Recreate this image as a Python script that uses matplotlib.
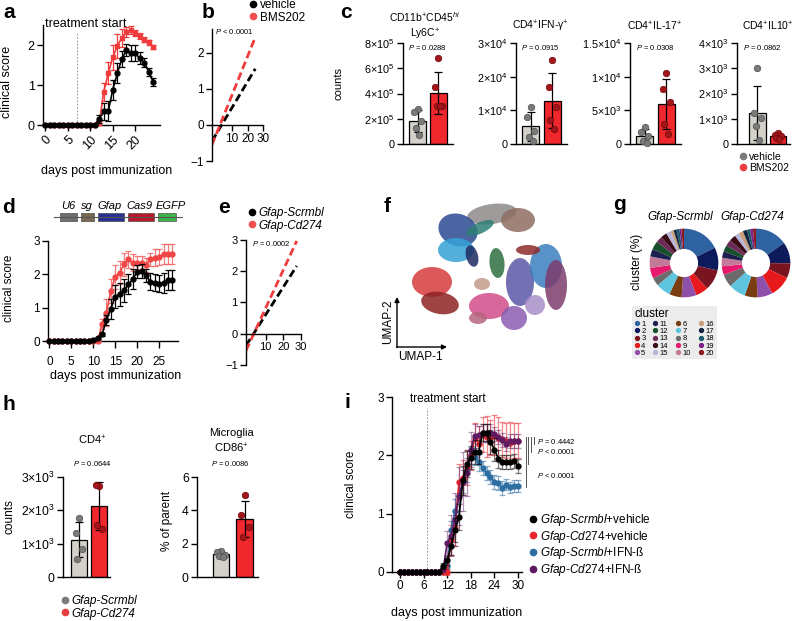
import numpy as np
import matplotlib
matplotlib.use("Agg")
import matplotlib.pyplot as plt
from matplotlib.patches import Ellipse, Rectangle
from matplotlib.lines import Line2D
from matplotlib.colors import to_rgba

plt.rcParams["font.family"] = ["Liberation Sans", "DejaVu Sans"]
plt.rcParams["mathtext.fontset"] = "custom"
plt.rcParams["mathtext.rm"] = "Liberation Sans"
plt.rcParams["mathtext.it"] = "Liberation Sans:italic"
plt.rcParams["mathtext.bf"] = "Liberation Sans:bold"
plt.rcParams["axes.linewidth"] = 1.0

W, H = 800, 621

# ---------------- data ----------------
# a: clinical score, vehicle vs BMS202
days_a = np.arange(0, 25)
a_vehicle = [0, 0, 0, 0, 0, 0, 0, 0, 0, 0, 0, 0,
             0.16, 0.34, 0.34, 0.88, 1.29, 1.64, 1.87, 1.79, 1.79, 1.67, 1.56, 1.33, 1.08]
a_vehicle_sem = [0, 0, 0, 0, 0, 0, 0, 0, 0, 0, 0, 0,
                 0.1, 0.22, 0.25, 0.25, 0.25, 0.2, 0.15, 0.2, 0.2, 0.15, 0.12, 0.1, 0.1]
a_bms = [0, 0, 0, 0, 0, 0, 0, 0, 0, 0, 0, 0,
         0.05, 0.83, 1.3, 1.69, 1.98, 2.17, 2.33, 2.37, 2.3, 2.22, 2.13, 2.07, 1.95]
a_bms_sem = [0, 0, 0, 0, 0, 0, 0, 0, 0, 0, 0, 0,
             0.05, 0.22, 0.28, 0.32, 0.3, 0.22, 0.12, 0.1, 0.08, 0.07, 0.06, 0.06, 0.06]

# b: regression lines
b_x = [-3, 25]
b_vehicle_fit = [-0.45, 1.55]
b_bms_fit = [-0.55, 2.42]

# c: flow cytometry counts
c_titles = ["CD11b$^{+}$CD45$^{hi}$\nLy6C$^{+}$", "CD4$^{+}$IFN-γ$^{+}$",
            "CD4$^{+}$IL-17$^{+}$", "CD4$^{+}$IL10$^{+}$"]
c_pvalues = ["0.0288", "0.0915", "0.0308", "0.0862"]
c_vehicle = [[2.8e5, 2.5e5, 1.8e5, 1.3e5, 0.7e5],
             [1.1e4, 0.8e4, 0.4e4, 0.2e4, 0.1e4],
             [2.5e3, 1.8e3, 1.2e3, 0.4e3, 0.1e3],
             [3.0e3, 1.23e3, 1.03e3, 0.72e3, 0.16e3]]
c_bms = [[6.8e5, 4.5e5, 3.0e5, 3.0e5, 3.0e5],
         [2.5e4, 1.7e4, 1.1e4, 0.7e4, 0.45e4],
         [10.6e3, 8.1e3, 6.2e3, 3.0e3, 1.5e3],
         [0.45e3, 0.35e3, 0.3e3, 0.25e3, 0.2e3]]
c_yticks = [[0, 2e5, 4e5, 6e5, 8e5],
            [0, 1e4, 2e4, 3e4],
            [0, 5e3, 1e4, 1.5e4],
            [0, 1e3, 2e3, 3e3, 4e3]]
c_yticklabels = [["0", r"$2{\times}10^5$", r"$4{\times}10^5$", r"$6{\times}10^5$", r"$8{\times}10^5$"],
                 ["0", r"$1{\times}10^4$", r"$2{\times}10^4$", r"$3{\times}10^4$"],
                 ["0", r"$5{\times}10^3$", r"$1{\times}10^4$", r"$1.5{\times}10^4$"],
                 ["0", r"$1{\times}10^3$", r"$2{\times}10^3$", r"$3{\times}10^3$", r"$4{\times}10^3$"]]

# d: clinical score, Gfap-Scrmbl vs Gfap-Cd274
days_d = np.arange(0, 29)
d_scr = [0, 0, 0, 0, 0, 0, 0, 0, 0, 0, 0.02, 0.08, 0.2, 0.62, 0.97, 1.33, 1.4, 1.52, 1.7,
         1.85, 2.08, 2.1, 1.97, 1.78, 1.75, 1.72, 1.75, 1.82, 1.82]
d_scr_sem = [0, 0, 0, 0, 0, 0, 0, 0, 0, 0, 0.02, 0.03, 0.05, 0.15, 0.3, 0.35, 0.35, 0.35, 0.3,
             0.3, 0.2, 0.2, 0.2, 0.25, 0.25, 0.25, 0.3, 0.3, 0.3]
d_cd = [0, 0, 0, 0, 0, 0, 0, 0, 0, 0, 0, 0, 0.5, 0.85, 1.5, 1.92, 2.05, 2.3, 2.45,
        2.35, 2.35, 2.35, 2.28, 2.45, 2.5, 2.52, 2.6, 2.6, 2.6]
d_cd_sem = [0, 0, 0, 0, 0, 0, 0, 0, 0, 0, 0, 0, 0.15, 0.4, 0.35, 0.35, 0.35, 0.35, 0.25,
            0.25, 0.2, 0.2, 0.2, 0.2, 0.25, 0.25, 0.3, 0.3, 0.3]
construct_parts = ["U6", "sg", "Gfap", "Cas9", "EGFP"]
construct_colors = ["#6e6e6e", "#7b6650", "#283092", "#b8182a", "#3db54a"]

# e: regression lines
e_x = [-1, 27.6]
e_scr_fit = [-0.38, 2.17]
e_cd_fit = [-0.54, 2.97]

# f: UMAP cluster blobs (centre x, centre y, width, height, angle, colour)
umap_x = [112, 138, 78, 76, 92, 100, 117, 52, 60, 102, 109, 98, 134, 140, 166, 176, 148, 155]
umap_y = [151, 145, 135, 115, 109, 137, 102, 83, 62, 81, 59, 47, 47, 83, 99, 80, 115, 60]
umap_w = [50, 34, 40, 36, 12, 30, 15, 40, 38, 16, 40, 18, 26, 28, 32, 22, 24, 20]
umap_h = [20, 24, 32, 24, 22, 11, 30, 30, 22, 12, 26, 12, 24, 48, 44, 50, 10, 20]
umap_angle = [8, 0, -20, 0, 15, 25, 5, 0, -10, 0, 0, 0, 0, 0, 0, 0, 0, 0]
umap_color = ["#8f8a8a", "#8e6d62", "#2a4a92", "#35a2d8", "#1d2a62", "#2d7f76", "#2e6f3f",
              "#d63c3c", "#8d2323", "#c29a8a", "#d24d8a", "#b5657f", "#8b5db2", "#5b57a7",
              "#3b7fc0", "#7d3d6c", "#8f2b2b", "#a98fcb"]

# g: cluster proportions
clusters = [str(i) for i in range(1, 21)]
cluster_colors = ["#2f62a0", "#0d1a5c", "#7a1420", "#e8191c", "#8e50a8", "#7a3d12", "#5fc4de",
                  "#6b6b6b", "#e6196e", "#c27a98", "#1c2050", "#15502b", "#6e2a56", "#3a0a16",
                  "#b6b6dc", "#c9a07c", "#102440", "#1b5a6a", "#7b1f8a", "#8b1a1a"]
g_scr_pct = [18, 11, 10, 6, 7, 6, 7, 4, 5, 5.5, 3.6, 4, 3, 3, 2.2, 1.5, 1.4, 1.4, 1, 1.2]
g_cd_pct = [15, 10, 7, 10, 7, 6, 8, 6, 4, 4, 3, 3, 3, 3, 2, 2.2, 2, 1.4, 1.4, 1.4]

# h: CD4 counts and microglia CD86
h_cd4_scr = [1.77e3, 1.32e3, 0.85e3, 0.55e3]
h_cd4_cd = [2.73e3, 2.75e3, 1.45e3, 1.55e3]
h_mg_scr = [1.55, 1.5, 1.35, 1.25, 1.2]
h_mg_cd = [4.9, 3.7, 3.0, 2.4]

# i: clinical score with IFN-beta
days_i = np.arange(0, 31)
i_scr_veh = [0, 0, 0, 0, 0, 0, 0, 0, 0, 0, 0, 0.11, 0.2, 0.44, 0.72, 0.94, 1.57, 1.85, 1.96,
             2.06, 2.06, 2.39, 2.39, 2.23, 2.1, 1.94, 1.88, 1.88, 1.88, 1.9, 1.82]
i_scr_veh_sem = [0, 0, 0, 0, 0, 0, 0, 0, 0, 0, 0, 0.05, 0.08, 0.15, 0.2, 0.22, 0.25, 0.22, 0.2,
                 0.2, 0.2, 0.15, 0.15, 0.2, 0.2, 0.15, 0.12, 0.12, 0.12, 0.12, 0.12]
i_cd_veh = [0, 0, 0, 0, 0, 0, 0, 0, 0, 0, 0, 0, 0, 0.55, 0.75, 1.55, 1.62, 1.8, 2.0,
            2.3, 2.2, 2.35, 2.32, 2.3, 2.35, 2.3, 2.28, 2.25, 2.22, 2.25, 2.25]
i_cd_veh_sem = [0, 0, 0, 0, 0, 0, 0, 0, 0, 0, 0, 0, 0.05, 0.25, 0.3, 0.3, 0.3, 0.3, 0.25,
                0.25, 0.3, 0.3, 0.35, 0.3, 0.35, 0.35, 0.3, 0.3, 0.35, 0.3, 0.3]
i_scr_ifn = [0, 0, 0, 0, 0, 0, 0, 0, 0, 0, 0, 0, 0.1, 0.72, 1.05, 1.3, 1.55, 1.75, 2.0,
             1.98, 1.88, 1.78, 1.7, 1.63, 1.54, 1.52, 1.44, 1.5, 1.45, 1.48, 1.48]
i_scr_ifn_sem = [0, 0, 0, 0, 0, 0, 0, 0, 0, 0, 0, 0, 0.05, 0.15, 0.2, 0.25, 0.2, 0.2, 0.15,
                 0.15, 0.15, 0.12, 0.12, 0.12, 0.12, 0.12, 0.12, 0.1, 0.1, 0.1, 0.1]
i_cd_ifn = [0, 0, 0, 0, 0, 0, 0, 0, 0, 0, 0, 0.05, 0.5, 0.62, 0.9, 1.3, 1.55, 1.7, 2.1,
            2.33, 2.35, 2.38, 2.38, 2.38, 2.36, 2.32, 2.27, 2.2, 2.25, 2.25, 2.25]
i_cd_ifn_sem = [0, 0, 0, 0, 0, 0, 0, 0, 0, 0, 0, 0.05, 0.2, 0.35, 0.45, 0.5, 0.5, 0.4, 0.3,
                0.2, 0.15, 0.15, 0.15, 0.15, 0.12, 0.12, 0.12, 0.12, 0.12, 0.12, 0.12]
i_labels = [r"$\mathit{Gfap}$-$\mathit{Scrmbl}$+vehicle", r"$\mathit{Gfap}$-$\mathit{Cd274}$+vehicle",
            r"$\mathit{Gfap}$-$\mathit{Scrmbl}$+IFN-ß", r"$\mathit{Gfap}$-$\mathit{Cd274}$+IFN-ß"]

RED = "#f0282d"
GREYBAR = "#d3d1c9"
GREYPT = "#7a7a7a"
DARKRED = "#a3141b"

fig = plt.figure(figsize=(W / 100, H / 100), dpi=100)


def box(x0, y0, x1, y1):
    ax = fig.add_axes([x0 / W, 1 - y1 / H, (x1 - x0) / W, (y1 - y0) / H])
    ax.patch.set_alpha(0)
    for s in ("top", "right"):
        ax.spines[s].set_visible(False)
    ax.tick_params(direction="out", length=4, width=1, pad=2)
    return ax


def ftext(x, y, s, **kw):
    kw.setdefault("ha", "center")
    kw.setdefault("va", "center")
    fig.text(x / W, 1 - y / H, s, **kw)


def flegend(x, y, labels, colors, size=8, style="normal", ms=4.5):
    hs = [Line2D([], [], ls="none", marker="o", color=c, ms=ms) for c in colors]
    fig.legend(hs, labels, loc="upper left", bbox_to_anchor=(x / W, 1 - y / H), frameon=False,
               handlelength=0.6, handletextpad=0.3, labelspacing=0.05, borderpad=0,
               borderaxespad=0, prop={"size": size, "style": style})


def score(ax, x, y, e, color, marker="o", ms=3.5, ealpha=1.0, z=3):
    ax.errorbar(x, y, yerr=e, color=color, ecolor=to_rgba(color, ealpha), marker=marker, ms=ms,
                lw=1.2, elinewidth=0.9, capsize=2.5, capthick=0.9, clip_on=False, zorder=z)


def bars(ax, pa, pb, ymax, ticks, labels, width=0.8, fs=7.8):
    means = [np.mean(pa), np.mean(pb)]
    sds = [np.std(pa, ddof=1), np.std(pb, ddof=1)]
    ax.bar([0, 1], means, width=width, color=[GREYBAR, RED], edgecolor="black", linewidth=0.9, zorder=2)
    ax.errorbar([0, 1], means, yerr=sds, fmt="none", ecolor="black", elinewidth=0.9, capsize=3,
                capthick=0.9, zorder=3)
    offs = np.array([0.0, -0.16, 0.16, -0.08, 0.08, 0.0])
    for i, (pts, pc, ec) in enumerate([(pa, GREYPT, "#505050"), (pb, DARKRED, "#6a0a0a")]):
        ax.scatter(i + offs[:len(pts)], pts, s=22, color=pc, edgecolor=ec, lw=0.5, zorder=4, clip_on=False)
    ax.set_ylim(0, ymax)
    ax.set_yticks(ticks)
    ax.set_yticklabels(labels, fontsize=fs)
    ax.set_xticks([])


# ---------------- panel letters ----------------
for s, x, y in [("a", 3, 18), ("b", 202, 18), ("c", 340, 18), ("d", 2, 213), ("e", 218, 213),
                ("f", 384, 212), ("g", 613, 210), ("h", 3, 410), ("i", 344, 408)]:
    fig.text(x / W, 1 - y / H, s, fontsize=15, fontweight="bold", va="baseline")

# ---------------- a ----------------
ax = box(43, 25, 160, 125)
score(ax, days_a, a_vehicle, a_vehicle_sem, "black", z=4)
score(ax, days_a, a_bms, a_bms_sem, "#f03c3c", marker="s", ms=3.2)
ax.set_xlim(-0.5, 25.5)
ax.set_ylim(0, 2.5)
ax.set_xticks([0, 5, 10, 15, 20])
ax.set_xticklabels(["0", "5", "10", "15", "20"], rotation=45, ha="right", rotation_mode="anchor", fontsize=9)
ax.set_yticks([0, 1, 2])
ax.tick_params(axis="y", labelsize=9)
ax.axvline(7, ymax=0.93, ls=(0, (2, 2)), color="grey", lw=0.6)
ftext(45, 24, "treatment start", ha="left", fontsize=9)
ax.set_xlabel("days post immunization", fontsize=9)
ax.xaxis.set_label_coords(0.54, -0.4)
ax.set_ylabel("clinical score", fontsize=9)
ax.yaxis.set_label_coords(-0.26, 0.43)

# ---------------- b ----------------
ax = box(212, 29, 263, 161)
ax.plot(b_x, b_vehicle_fit, color="black", lw=2, ls=(0, (2.8, 1.4)))
ax.plot(b_x, b_bms_fit, color="#f03c3c", lw=2, ls=(0, (2.8, 1.4)))
ax.set_xlim(-3, 30)
ax.set_ylim(-1, 2.65)
ax.spines["bottom"].set_position(("data", 0))
ax.set_xticks([10, 20, 30])
ax.set_yticks([-1, 0, 1, 2])
ax.tick_params(labelsize=8.5)
ftext(234, 32, r"$\mathit{P}$ < 0.0001", fontsize=5.5)
flegend(249, -1, ["vehicle", "BMS202"], ["black", "#f05050"], size=8.5)

# ---------------- c ----------------
c_boxes = [(403, 453), (516, 567), (630, 681), (737, 790)]
c_title_x = [425, 540, 655, 768]
c_p_x = [427, 540, 655, 762]
for k in range(4):
    ax = box(c_boxes[k][0], 43, c_boxes[k][1], 144)
    bars(ax, c_vehicle[k], c_bms[k], c_yticks[k][-1], c_yticks[k], c_yticklabels[k])
    if k == 3:
        ax.set_xlim(-1.0, 1.6)
    else:
        ax.set_xlim(-0.7, 1.7)
    ftext(c_p_x[k], 47, r"$\mathit{P}$ = " + c_pvalues[k], fontsize=5.5)
    if k == 0:
        ftext(c_title_x[k], 26, c_titles[k], fontsize=7.5, linespacing=1.3)
        ax.set_ylabel("counts", fontsize=8)
        ax.yaxis.set_label_coords(-1.2, 0.6)
    else:
        ftext(c_title_x[k], 26, c_titles[k], fontsize=7.5)
flegend(740, 152, ["vehicle", "BMS202"], [GREYPT, "#e84040"], size=7.5)

# ---------------- d ----------------
ax = box(48, 241, 178, 341)
score(ax, days_d, d_cd, d_cd_sem, "#f24545", ealpha=0.7)
score(ax, days_d, d_scr, d_scr_sem, "black", z=4)
ax.set_xlim(-0.3, 29.3)
ax.set_ylim(0, 3)
ax.set_xticks([0, 5, 10, 15, 20, 25])
ax.set_yticks([0, 1, 2, 3])
ax.tick_params(labelsize=8.5)
ax.tick_params(axis="x", length=5, pad=6)
ax.set_xlabel("days post immunization", fontsize=9)
ax.xaxis.set_label_coords(0.52, -0.29)
ax.set_ylabel("clinical score", fontsize=8.5)
ax.yaxis.set_label_coords(-0.25, 0.53)

# construct schematic
ov = fig.add_axes([0, 0, 1, 1])
ov.set_xlim(0, W)
ov.set_ylim(H, 0)
ov.axis("off")
ov.patch.set_alpha(0)
ov.plot([54, 182], [217, 217], color="#555555", lw=0.8)
part_x = [(60, 77), (81, 94), (98, 124), (128, 154), (158, 176)]
label_x = [68, 87, 110, 139, 171]
for (x0, x1), lx, c, name in zip(part_x, label_x, construct_colors, construct_parts):
    ov.add_patch(Rectangle((x0, 213), x1 - x0, 8, facecolor=c, edgecolor="#333333", lw=0.4))
    ov.text(lx, 206, name, ha="center", va="center", fontsize=8, style="italic")

# ---------------- e ----------------
ax = box(246, 240, 301, 365)
ax.plot(e_x, e_scr_fit, color="black", lw=2, ls=(0, (2.8, 1.4)))
ax.plot(e_x, e_cd_fit, color="#f03c3c", lw=2, ls=(0, (2.8, 1.4)))
ax.set_xlim(-1, 30)
ax.set_ylim(-1, 3)
ax.spines["bottom"].set_position(("data", 0))
ax.set_xticks([10, 20, 30])
ax.set_yticks([-1, 0, 1, 2, 3])
ax.tick_params(labelsize=8)
ftext(271, 244, r"$\mathit{P}$ = 0.0002", fontsize=5.5)
flegend(248, 207, ["Gfap-Scrmbl", "Gfap-Cd274"], ["black", "#f05050"], size=8.5, style="italic")

# ---------------- f ----------------
ax = fig.add_axes([380 / W, 1 - 365 / H, 195 / W, 165 / H])
ax.set_xlim(0, 195)
ax.set_ylim(0, 165)
ax.axis("off")
for x, y, w, h, a, c in zip(umap_x, umap_y, umap_w, umap_h, umap_angle, umap_color):
    ax.add_patch(Ellipse((x, y), w, h, angle=a, facecolor=c, edgecolor="none", alpha=0.85))
ax.annotate("", xy=(17, 68), xytext=(17, 17.5), arrowprops=dict(arrowstyle="-|>", lw=1, color="black",
            mutation_scale=7, shrinkA=0, shrinkB=0))
ax.annotate("", xy=(67, 18), xytext=(16.5, 18), arrowprops=dict(arrowstyle="-|>", lw=1, color="black",
            mutation_scale=7, shrinkA=0, shrinkB=0))
ftext(388, 322, "UMAP-2", rotation=90, fontsize=8.5)
ftext(420, 357, "UMAP-1", fontsize=8.5)

# ---------------- g ----------------
for cx, pct, name in [(684, g_scr_pct, "Gfap-Scrmbl"), (756, g_cd_pct, "Gfap-Cd274")]:
    ax = fig.add_axes([(cx - 36) / W, 1 - (263 + 36) / H, 72 / W, 72 / H])
    ax.pie(pct, colors=cluster_colors, startangle=90, counterclock=False, radius=1.05,
           wedgeprops=dict(width=0.62, edgecolor="none"))
    ax.set_xlim(-1.1, 1.1)
    ax.set_ylim(-1.1, 1.1)
    ax.set_aspect("equal")
    ftext(cx - 4, 217, name, fontsize=8.5, style="italic")
ftext(637, 262, "cluster (%)", rotation=90, fontsize=8.5)
order = [0, 1, 2, 3, 4, 10, 11, 12, 13, 14, 5, 6, 7, 8, 9, 15, 16, 17, 18, 19]
hs = [Line2D([], [], ls="none", marker="o", color=cluster_colors[i], ms=2.8) for i in order]
leg = fig.legend(hs, [clusters[i] for i in order], ncol=4, loc="upper left",
                 bbox_to_anchor=(632 / W, 1 - 306 / H), title="cluster", alignment="left",
                 frameon=True, fancybox=False, facecolor="#ececec", edgecolor="none", framealpha=1,
                 fontsize=5.5, title_fontsize=8.5, handlelength=0.6, handletextpad=0.3,
                 columnspacing=1.0, labelspacing=0.0, borderpad=0.3, borderaxespad=0)

# ---------------- h ----------------
ax = box(63, 477, 110, 577)
bars(ax, h_cd4_scr, h_cd4_cd, 3e3, [0, 1e3, 2e3, 3e3],
     ["0", r"$1{\times}10^3$", r"$2{\times}10^3$", r"$3{\times}10^3$"], fs=8.8)
ax.set_xlim(-0.8, 1.55)
ax.set_ylabel("counts", fontsize=8.5)
ax.yaxis.set_label_coords(-1.02, 0.6)
ftext(92, 440, "CD4$^{+}$", fontsize=8)
ftext(92, 464, r"$\mathit{P}$ = 0.0644", fontsize=5.5)

ax = box(197, 477, 258, 577)
bars(ax, h_mg_scr, h_mg_cd, 6, [0, 2, 4, 6], ["0", "2", "4", "6"], width=0.7, fs=8.8)
ax.set_xlim(-1.0, 1.55)
ax.set_ylabel("% of parent", fontsize=8.5)
ax.yaxis.set_label_coords(-0.4, 0.56)
ftext(231, 433, "Microglia", fontsize=8)
ftext(231, 448, "CD86$^{+}$", fontsize=8)
ftext(230, 464, r"$\mathit{P}$ = 0.0086", fontsize=5.5)
flegend(61, 595, ["Gfap-Scrmbl", "Gfap-Cd274"], [GREYPT, "#e84040"], size=8.5, style="italic")

# ---------------- i ----------------
ax = box(392, 397, 522, 572)
i_colors = ["black", "#e8252a", "#2d6ea3", "#5f1a62"]
score(ax, days_i, i_scr_ifn, i_scr_ifn_sem, i_colors[2], ealpha=0.55, z=3)
score(ax, days_i, i_cd_veh, i_cd_veh_sem, i_colors[1], ealpha=0.55, z=3)
score(ax, days_i, i_cd_ifn, i_cd_ifn_sem, i_colors[3], ealpha=0.45, z=4)
score(ax, days_i, i_scr_veh, i_scr_veh_sem, i_colors[0], ealpha=0.5, z=5)
ax.set_xlim(-2, 31)
ax.set_ylim(0, 3)
ax.set_xticks([0, 6, 12, 18, 24, 30])
ax.set_yticks([0, 1, 2, 3])
ax.tick_params(labelsize=8.5)
ax.axvline(7, ymax=0.94, ls=(0, (2, 2)), color="grey", lw=0.6)
ftext(410, 399, "treatment start", ha="left", fontsize=8.5)
ax.set_xlabel("days post immunization", fontsize=9)
ax.xaxis.set_label_coords(0.5, -0.2)
ax.set_ylabel("clinical score", fontsize=8.5)
ax.yaxis.set_label_coords(-0.27, 0.5)
for bx, y0, y1 in [(32.0, 2.32, 1.45), (32.6, 2.32, 1.85), (33.3, 2.32, 2.05), (34.0, 2.32, 2.2)]:
    ax.plot([bx, bx], [y0, y1], color="#555555", lw=0.7, clip_on=False)
ftext(537, 441, r"$\mathit{P}$ = 0.4442", ha="left", fontsize=5.5)
ftext(537, 452, r"$\mathit{P}$ < 0.0001", ha="left", fontsize=5.5)
ftext(537, 476, r"$\mathit{P}$ < 0.0001", ha="left", fontsize=5.5)
flegend(529, 512, i_labels, i_colors, size=8.5)

fig.savefig("out.png", dpi=100)
